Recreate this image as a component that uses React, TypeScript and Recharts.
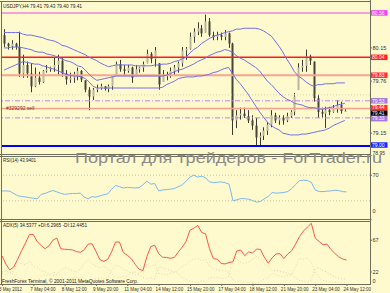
import React from 'react'
import { ComposedChart, Bar, Line, XAxis, YAxis, ReferenceLine } from 'recharts'

// USDJPY H4, 89 bars
const priceOpen = [
  80.30, 80.20, 80.17, 80.20, 80.16, 79.85, 79.95, 79.85, 79.70, 79.80,
  79.75, 79.88, 79.90, 79.92, 79.95, 80.00, 79.85, 79.78, 79.80, 79.84,
  79.88, 79.77, 79.66, 79.58, 79.66, 79.68, 79.70, 79.67, 79.70, 79.83,
  79.96, 79.90, 79.88, 79.92, 79.83, 79.90, 79.92, 79.97, 80.08, 80.02,
  79.97, 79.75, 79.82, 79.84, 79.88, 79.92, 79.97, 80.12, 80.14, 80.28,
  80.34, 80.38, 80.33, 80.46, 80.30, 80.28, 80.30, 80.28, 80.32, 80.20,
  79.30, 79.36, 79.38, 79.35, 79.30, 79.24, 79.10, 79.12, 79.18, 79.25,
  79.36, 79.30, 79.33, 79.30, 79.35, 79.40, 79.66, 79.92, 79.94, 80.05,
  79.99, 79.56, 79.40, 79.38, 79.42, 79.40, 79.44, 79.48, 79.41,
]
const priceHigh = [
  80.37, 80.21, 80.24, 80.21, 80.34, 80.07, 79.99, 79.97, 79.92, 79.87,
  79.89, 79.95, 79.93, 80.04, 80.07, 80.04, 79.89, 79.86, 79.87, 79.92,
  79.89, 79.77, 79.69, 79.68, 79.72, 79.73, 79.70, 79.72, 79.83, 79.99,
  80.01, 79.95, 79.95, 79.93, 79.95, 79.93, 79.99, 80.13, 80.10, 80.16,
  79.97, 79.89, 79.87, 79.92, 79.95, 79.99, 80.16, 80.16, 80.33, 80.38,
  80.45, 80.42, 80.54, 80.50, 80.34, 80.34, 80.33, 80.36, 80.33, 80.21,
  79.42, 79.45, 79.45, 79.42, 79.36, 79.33, 79.16, 79.22, 79.28, 79.42,
  79.39, 79.36, 79.36, 79.39, 79.42, 79.62, 79.97, 80.01, 80.13, 80.07,
  79.99, 79.60, 79.45, 79.46, 79.46, 79.48, 79.54, 79.52, 79.43,
]
const priceLow = [
  80.16, 80.13, 80.13, 80.13, 79.81, 79.80, 79.80, 79.63, 79.69, 79.72,
  79.74, 79.86, 79.87, 79.87, 79.83, 79.81, 79.72, 79.74, 79.74, 79.77,
  79.75, 79.63, 79.42, 79.54, 79.63, 79.66, 79.65, 79.63, 79.66, 79.83,
  79.87, 79.83, 79.86, 79.74, 79.83, 79.86, 79.87, 79.97, 79.97, 79.93,
  79.66, 79.75, 79.77, 79.80, 79.83, 79.86, 79.93, 80.01, 80.13, 80.21,
  80.30, 80.28, 80.33, 80.28, 80.24, 80.24, 80.24, 80.24, 80.15, 79.13,
  79.21, 79.31, 79.33, 79.27, 79.19, 79.01, 79.00, 79.07, 79.13, 79.22,
  79.27, 79.25, 79.25, 79.28, 79.33, 79.36, 79.66, 79.87, 79.87, 79.95,
  79.52, 79.33, 79.33, 79.21, 79.36, 79.39, 79.39, 79.38, 79.40,
]
const priceClose = [
  80.20, 80.17, 80.20, 80.16, 79.85, 79.95, 79.85, 79.70, 79.80, 79.75,
  79.88, 79.90, 79.92, 79.95, 80.00, 79.85, 79.78, 79.80, 79.84, 79.88,
  79.78, 79.66, 79.58, 79.66, 79.68, 79.70, 79.67, 79.70, 79.82, 79.96,
  79.90, 79.88, 79.92, 79.80, 79.90, 79.92, 79.96, 80.08, 80.02, 80.12,
  79.72, 79.82, 79.84, 79.88, 79.92, 79.97, 80.12, 80.14, 80.28, 80.34,
  80.38, 80.32, 80.46, 80.30, 80.28, 80.30, 80.28, 80.32, 80.20, 79.30,
  79.36, 79.38, 79.35, 79.30, 79.24, 79.10, 79.12, 79.18, 79.25, 79.36,
  79.30, 79.33, 79.30, 79.35, 79.40, 79.58, 79.92, 79.94, 80.05, 80.00,
  79.56, 79.40, 79.38, 79.42, 79.40, 79.44, 79.48, 79.41, 79.41,
]

// channel around price (upper / middle / lower)
const bandUpper = [
  80.33, 80.33, 80.33, 80.33, 80.33, 80.31, 80.30, 80.30, 80.29, 80.28,
  80.27, 80.25, 80.24, 80.23, 80.21, 80.18, 80.17, 80.15, 80.13, 80.11,
  80.09, 80.07, 80.04, 80.02, 80.00, 79.97, 79.95, 79.93, 79.94, 79.95,
  79.95, 79.95, 79.95, 79.95, 79.94, 79.94, 79.94, 79.94, 79.94, 79.95,
  79.95, 79.96, 79.96, 79.97, 79.99, 80.00, 80.02, 80.04, 80.09, 80.13,
  80.16, 80.20, 80.23, 80.26, 80.28, 80.30, 80.31, 80.33, 80.34, 80.35,
  80.37, 80.37, 80.38, 80.38, 80.38, 80.38, 80.37, 80.35, 80.32, 80.29,
  80.23, 80.17, 80.10, 80.02, 79.95, 79.87, 79.82, 79.79, 79.75, 79.72,
  79.70, 79.72, 79.72, 79.73, 79.73, 79.73, 79.74, 79.74, 79.74,
]
const bandMiddle = [
  80.15, 80.15, 80.16, 80.16, 80.16, 80.15, 80.14, 80.13, 80.11, 80.10,
  80.10, 80.08, 80.07, 80.06, 80.04, 80.02, 80.00, 79.99, 79.97, 79.94,
  79.93, 79.89, 79.84, 79.80, 79.77, 79.78, 79.79, 79.80, 79.81, 79.82,
  79.82, 79.82, 79.82, 79.82, 79.82, 79.82, 79.82, 79.82, 79.82, 79.82,
  79.82, 79.82, 79.83, 79.85, 79.87, 79.89, 79.90, 79.92, 79.94, 79.96,
  79.99, 80.01, 80.03, 80.06, 80.08, 80.10, 80.11, 80.13, 80.12, 80.10,
  80.06, 80.03, 80.01, 79.98, 79.95, 79.92, 79.88, 79.82, 79.76, 79.72,
  79.67, 79.62, 79.58, 79.55, 79.53, 79.50, 79.49, 79.48, 79.46, 79.45,
  79.45, 79.44, 79.43, 79.44, 79.45, 79.46, 79.48, 79.49, 79.50,
]
const bandLower = [
  79.89, 79.91, 79.93, 79.95, 79.97, 79.99, 79.98, 79.97, 79.96, 79.96,
  79.94, 79.93, 79.91, 79.90, 79.88, 79.86, 79.84, 79.83, 79.82, 79.82,
  79.81, 79.79, 79.75, 79.70, 79.68, 79.68, 79.68, 79.68, 79.68, 79.68,
  79.68, 79.68, 79.68, 79.68, 79.68, 79.68, 79.68, 79.68, 79.68, 79.68,
  79.68, 79.69, 79.72, 79.74, 79.76, 79.79, 79.80, 79.81, 79.81, 79.81,
  79.82, 79.82, 79.83, 79.84, 79.86, 79.87, 79.89, 79.91, 79.92, 79.85,
  79.78, 79.73, 79.67, 79.61, 79.54, 79.47, 79.40, 79.34, 79.28, 79.24,
  79.21, 79.19, 79.15, 79.14, 79.13, 79.13, 79.13, 79.14, 79.14, 79.15,
  79.16, 79.17, 79.18, 79.19, 79.21, 79.24, 79.26, 79.28, 79.30,
]

const rsiValues = [
  45.4, 45.4, 45.0, 41.5, 38.0, 36.8, 36.0, 35.0, 34.0, 33.0,
  40.0, 41.5, 44.0, 46.0, 44.0, 41.8, 40.0, 40.8, 41.5, 41.5,
  42.0, 36.0, 33.0, 36.5, 35.8, 37.5, 39.5, 40.8, 48.0, 54.0,
  52.0, 50.0, 51.0, 50.5, 50.0, 50.5, 55.0, 60.8, 56.0, 57.0,
  45.5, 46.9, 47.5, 48.2, 49.0, 52.0, 54.6, 60.5, 67.0, 70.0,
  67.0, 68.5, 66.0, 59.5, 58.5, 59.0, 59.5, 58.2, 56.0, 30.0,
  31.5, 33.5, 33.3, 32.5, 30.5, 28.0, 29.0, 33.0, 37.0, 42.8,
  42.0, 42.4, 43.0, 44.5, 49.0, 55.5, 61.5, 62.3, 61.8, 59.0,
  46.9, 44.4, 44.4, 45.0, 45.5, 46.5, 46.0, 44.4, 43.94,
]

const adxValues = [
  45, 33, 25, 29, 40, 52, 63, 75, 75, 65,
  59.5, 55, 59, 67, 70, 55, 54.2, 53.8, 53.3, 51,
  49.8, 53.5, 61.5, 62, 51, 39.5, 37, 40, 50.5, 64.5,
  64.5, 49.5, 45.8, 41, 33, 26, 24, 43.7, 58, 60,
  48, 43, 42.5, 41.5, 42.5, 50, 57, 65, 81, 84,
  88, 78, 76, 55, 41, 40, 34, 33.5, 35.4, 36.5,
  52, 53, 45, 50.5, 48.7, 54.5, 54, 43, 34.5, 42,
  47.5, 48, 41, 47.7, 52, 61.5, 72.3, 80, 85.6, 91,
  70, 65.3, 60.5, 61.5, 54, 48.5, 43.5, 40.5, 39,
]
const plusDiValues = [
  20, 18, 22, 18, 14, 12, 10, 9, 12, 10,
  16, 18, 17, 22, 20, 16, 12, 11, 13, 15,
  12, 9, 8, 10, 12, 14, 12, 14, 24, 32,
  30, 25, 24, 20, 22, 20, 24, 34, 30, 33,
  20, 19, 18, 20, 22, 24, 30, 32, 38, 40,
  42, 38, 40, 30, 27, 25, 24, 24, 20, 10,
  8, 9, 8, 7, 6, 5, 8, 12, 14, 20,
  18, 16, 15, 17, 18, 30, 42, 40, 42, 36,
  22, 14, 10, 9, 8, 8, 7, 7, 6.3,
]
const minusDiValues = [
  22, 24, 20, 24, 36, 34, 32, 38, 30, 28,
  24, 22, 20, 17, 18, 24, 28, 26, 24, 22,
  26, 34, 40, 34, 30, 28, 30, 27, 20, 14,
  14, 16, 16, 22, 18, 18, 15, 12, 14, 12,
  30, 28, 26, 24, 22, 20, 14, 12, 9, 8,
  7, 9, 8, 14, 14, 14, 13, 13, 16, 44,
  40, 36, 34, 36, 40, 44, 40, 34, 30, 24,
  24, 23, 22, 20, 18, 14, 10, 9, 8, 10,
  26, 28, 24, 22, 18, 15, 13, 12.5, 12.4,
]

const dateTicks = [0, 8, 16, 24, 32, 40, 48, 56, 64, 72, 80, 88]
const dateLabels = [
  '3 May 2012', '7 May 04:00', '8 May 12:00', '9 May 20:00', '11 May 04:00', '14 May 12:00',
  '15 May 20:00', '17 May 04:00', '18 May 12:00', '21 May 20:00', '23 May 04:00', '24 May 12:00',
]
const priceTicks = [80.35, 80.15, 79.96, 79.76, 79.15]
const rsiTicks = [100, 70, 30, 0]
const adxTicks = [90, 67, 45, 22]

const SLOTS = 95 // bars plus empty space on the right (chart shift)
const FONT = "'Liberation Sans', Arial, sans-serif"
const BG = '#fffacd'
const FRAME = '#6e6e5c'
const DASHDOT = '5 2 1 2'

const rows = Array.from({ length: SLOTS }, (_, i) =>
  i < priceClose.length
    ? {
        i,
        open: priceOpen[i],
        high: priceHigh[i],
        low: priceLow[i],
        close: priceClose[i],
        hl: [priceLow[i], priceHigh[i]],
        upper: bandUpper[i],
        middle: bandMiddle[i],
        lower: bandLower[i],
        rsi: rsiValues[i],
        adx: adxValues[i],
        plusDi: plusDiValues[i],
        minusDi: minusDiValues[i],
      }
    : { i }
)

const Candle = (props: any) => {
  const { x, y, width, height, payload } = props
  if (!payload || payload.high == null || !height) return <g />
  const top = Math.min(y, y + height)
  const h = Math.abs(height)
  const k = h / (payload.high - payload.low)
  const cx = Math.round(x + width / 2) + 0.5
  const yo = top + (payload.high - payload.open) * k
  const yc = top + (payload.high - payload.close) * k
  const up = payload.close >= payload.open
  return (
    <g>
      <line x1={cx} x2={cx} y1={top} y2={top + h} stroke="#3a3a30" strokeWidth={1} />
      <rect x={cx - 1} y={Math.min(yo, yc)} width={2} height={Math.max(1, Math.abs(yc - yo))}
        fill={up ? '#b8b79e' : '#45453a'} />
    </g>
  )
}

const ScaleTick = (props: any) => {
  const { x, y, payload, lo, hi, digits } = props
  let yy = y
  if (lo != null) yy = Math.max(lo, yy)
  if (hi != null) yy = Math.min(hi, yy)
  const v = digits ? Number(payload.value).toFixed(digits) : payload.value
  return (
    <text x={x + 0.5} y={yy + 2} fontSize={5.5} fill="#303030" fontFamily={FONT}>{v}</text>
  )
}

const DateTick = (props: any) => {
  const { x, y, payload } = props
  const k = dateTicks.indexOf(payload.value)
  const label = dateLabels[k] || ''
  return (
    <g>
      <line x1={x + 0.5} x2={x + 0.5} y1={y} y2={y + 2} stroke={FRAME} />
      <text x={x - 3} y={y + 7} fontSize={5} fill="#303030" fontFamily={FONT}
        textLength={label.length * 2.3} lengthAdjust="spacingAndGlyphs">{label}</text>
    </g>
  )
}

const PriceBox = (props: any) => {
  const { viewBox, text, fill, note, shift = 0 } = props
  if (!viewBox) return null
  const x = viewBox.x + viewBox.width + 0.5
  const y = viewBox.y + shift
  return (
    <g>
      {note && (
        <text x={viewBox.x + 4} y={viewBox.y + 2} fontSize={5} fill="#7a2a1a" fontFamily={FONT}>{note}</text>
      )}
      <rect x={x} y={y - 2.75} width={17} height={5.5} fill={fill} />
      <text x={x + 1.5} y={y + 1.8} fontSize={5} fill="#ffffff" fontFamily={FONT}>{text}</text>
    </g>
  )
}

const levels = [
  { price: 80.56, text: '80.56', stroke: '#f0a2da', width: 2, dash: undefined, box: '#f044f0' },
  { price: 80.04, text: '80.04', stroke: '#ff1a1a', width: 1.5, dash: undefined, box: '#ff2020' },
  { price: 79.83, text: '79.83', stroke: '#f9a58f', width: 2, dash: undefined, box: '#ff3030' },
  { price: 79.60, text: '', stroke: '#d6cfa8', width: 1, dash: '1 2', box: '' },
  { price: 79.53, text: '79.53', stroke: '#c084e4', width: 1, dash: DASHDOT, box: '#a878dc' },
  { price: 79.41, text: '79.41', stroke: 'none', width: 0, dash: undefined, box: '#000000', shift: 2 },
  { price: 79.44, text: '79.44', stroke: '#f7a08c', width: 1.5, dash: undefined, box: '#ff3030', note: '#329292 sell', shift: -0.8 },
  { price: 79.33, text: '79.33', stroke: '#c084e4', width: 1, dash: DASHDOT, box: '#a878dc', shift: 0.8 },
  { price: 79.00, text: '79.00', stroke: '#0000ff', width: 2, dash: undefined, box: '#1428ff', shift: -1 },
]

const App: React.FC = () => {
  return (
    <div style={{ position: 'fixed', left: 0, top: 0, width: 390, height: 293, background: BG, overflow: 'hidden' }}>
      {/* price window */}
      <div style={{ position: 'absolute', left: 0, top: 0 }}>
        <ComposedChart width={390} height={154} data={rows} margin={{ top: 2, right: 0, bottom: 2, left: 2 }}>
          <XAxis dataKey="i" hide />
          <YAxis orientation="right" width={20} domain={[78.93, 80.688]} allowDataOverflow
            ticks={priceTicks} axisLine={false} tickSize={2} tickMargin={0}
            tickLine={{ stroke: FRAME }} tick={<ScaleTick digits={2} />} />
          {levels.map((l) => (
            <ReferenceLine key={l.price} y={l.price} stroke={l.stroke} strokeWidth={l.width}
              strokeDasharray={l.dash}
              label={l.box ? <PriceBox text={l.text} fill={l.box} note={l.note} shift={l.shift} /> : undefined} />
          ))}
          <Line dataKey="upper" stroke="#7070e8" strokeWidth={1} dot={false} isAnimationActive={false} />
          <Line dataKey="middle" stroke="#7070e8" strokeWidth={1} dot={false} isAnimationActive={false} />
          <Line dataKey="lower" stroke="#7070e8" strokeWidth={1} dot={false} isAnimationActive={false} />
          <Bar dataKey="hl" shape={<Candle />} isAnimationActive={false} />
        </ComposedChart>
      </div>

      {/* RSI window */}
      <div style={{ position: 'absolute', left: 0, top: 156 }}>
        <ComposedChart width={390} height={64} data={rows} margin={{ top: 0, right: 0, bottom: 0, left: 2 }}>
          <XAxis dataKey="i" hide />
          <YAxis orientation="right" width={20} domain={[0, 100]} ticks={rsiTicks} axisLine={false}
            tickSize={2} tickMargin={0} tickLine={{ stroke: FRAME }} tick={<ScaleTick lo={4} hi={61} />} />
          <ReferenceLine y={70} stroke="#c9c3a0" strokeDasharray="1 2" />
          <ReferenceLine y={30} stroke="#c9c3a0" strokeDasharray="1 2" />
          <Line dataKey="rsi" stroke="#7ab8f0" strokeWidth={1} dot={false} isAnimationActive={false} />
        </ComposedChart>
      </div>

      {/* ADX window with the time scale */}
      <div style={{ position: 'absolute', left: 0, top: 222 }}>
        <ComposedChart width={390} height={71} data={rows} margin={{ top: 0, right: 0, bottom: 0, left: 2 }}>
          <XAxis dataKey="i" ticks={dateTicks} interval={0} height={9} axisLine={false}
            tickLine={false} tickSize={0} tickMargin={0} tick={<DateTick />} />
          <YAxis orientation="right" width={20} domain={[5, 92.8]} allowDataOverflow ticks={adxTicks}
            axisLine={false} tickSize={2} tickMargin={0} tickLine={{ stroke: FRAME }} tick={<ScaleTick />} />
          <Line dataKey="plusDi" stroke="#e4d9a6" strokeDasharray="1 2" dot={false} isAnimationActive={false} />
          <Line dataKey="minusDi" stroke="#e8d2b0" strokeDasharray="1 2" dot={false} isAnimationActive={false} />
          <Line dataKey="adx" stroke="#f25a4a" strokeWidth={1} dot={false} isAnimationActive={false} />
        </ComposedChart>
      </div>

      <svg width={390} height={293} style={{ position: 'absolute', left: 0, top: 0, pointerEvents: 'none' }}>
        <g stroke={FRAME} strokeWidth={1}>
          <line x1={0} x2={370} y1={1.5} y2={1.5} />
          <line x1={1.5} x2={1.5} y1={1} y2={285} />
          <line x1={370.5} x2={370.5} y1={0} y2={285} />
          <line x1={0} x2={370} y1={154.5} y2={154.5} />
          <line x1={0} x2={370} y1={156.5} y2={156.5} />
          <line x1={0} x2={370} y1={219.5} y2={219.5} />
          <line x1={0} x2={370} y1={221.5} y2={221.5} />
          <line x1={0} x2={370} y1={284.5} y2={284.5} />
        </g>
        <g fontFamily={FONT} fill="#202020" fontSize={6}>
          <text x={3} y={8} textLength={79} lengthAdjust="spacingAndGlyphs">USDJPY,H4  79.41 79.43 79.40 79.41</text>
          <text x={3} y={162} textLength={33} lengthAdjust="spacingAndGlyphs">RSI(14) 43.9401</text>
          <text x={3} y={227} textLength={84} lengthAdjust="spacingAndGlyphs">ADX(5) 34.5377 +DI:6.2965 -DI:12.4451</text>
          <text x={2} y={283} textLength={136} lengthAdjust="spacingAndGlyphs">FreshForex Terminal, © 2001-2011 MetaQuotes Software Corp.</text>
          <text x={372.5} y={283} fontSize={5.5} fill="#303030">0</text>
          {/* lowest price-scale label, just under the 79.00 box */}
          <text x={372.5} y={154.5} fontSize={5} fill="#303030">78.95</text>
        </g>
        <text x={75} y={162.5} fontFamily={FONT} fontSize={14.5} fill="#8a8a8a" textLength={307}
          lengthAdjust="spacingAndGlyphs">Портал для трейдеров - ForTrader.ru</text>
      </svg>
    </div>
  )
}

export default App
